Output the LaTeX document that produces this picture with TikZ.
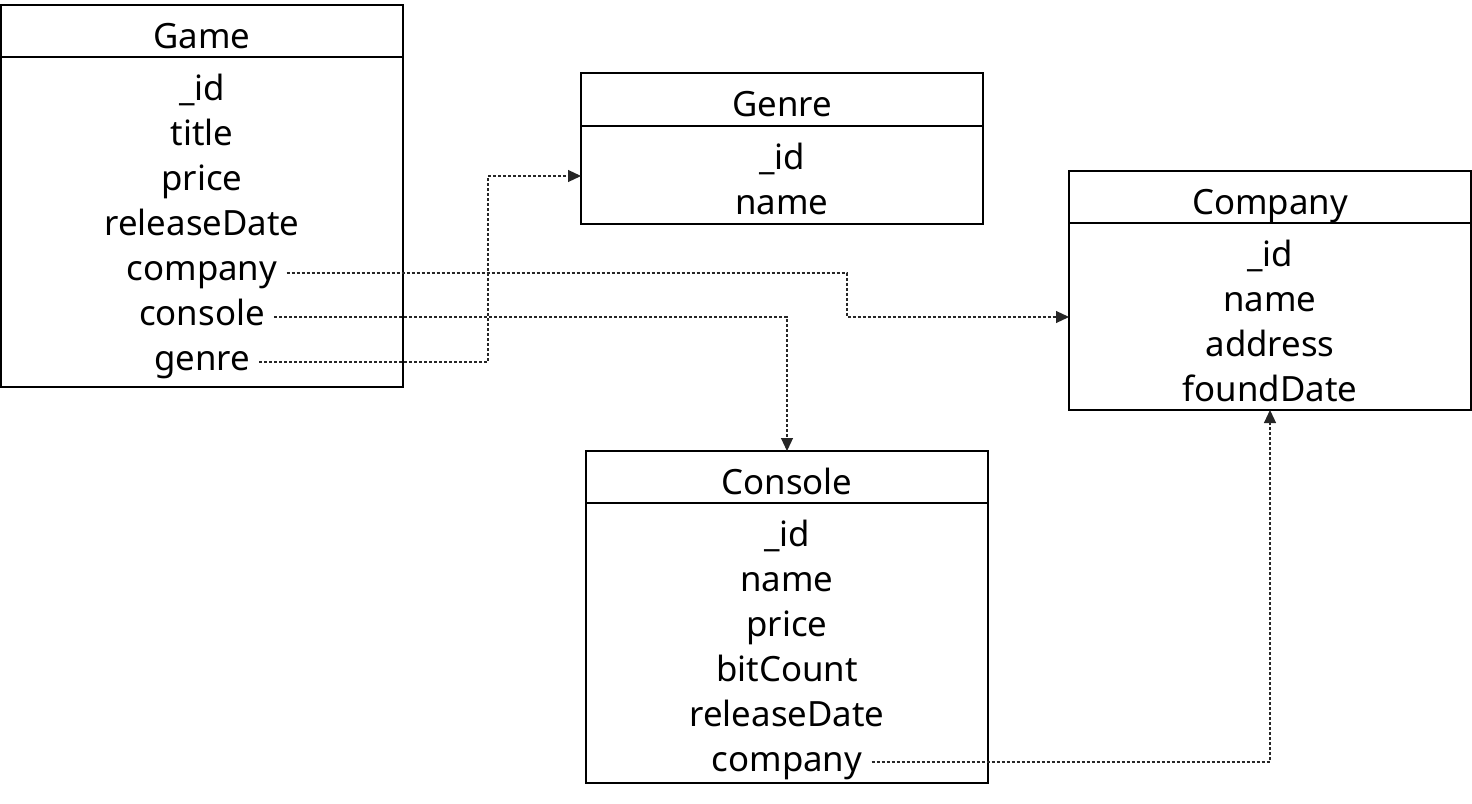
\documentclass[tikz,border=0pt]{standalone}
\usepackage{fontspec}
\setmainfont{Noto Sans}
\usetikzlibrary{arrows.meta,calc}
\begin{document}
\begin{tikzpicture}[x=0.5pt,y=-0.5pt,
  box/.style={draw,line width=1pt,anchor=north west,minimum width=201pt,inner sep=0pt,outer sep=0pt},
  fld/.style={anchor=base,inner sep=0pt,font=\fontsize{17.4}{20}\selectfont},
  conn/.style={draw=black!85,line width=0.55pt,dash pattern=on 1.5pt off 1pt,-{Triangle[length=6.5pt,width=6pt]}}]
\useasboundingbox (0,0) rectangle (1472,803);
% boxes
\node[box,minimum height=191pt] (game) at (1,5) {};
\node[box,minimum height=75.5pt] (genre) at (581,73) {};
\node[box,minimum height=119.5pt] (company) at (1069,171) {};
\node[box,minimum height=166pt] (console) at (586,451) {};
\draw[line width=1pt] (game.north west) ++(0,52) -- ++(402,0);
\draw[line width=1pt] (genre.north west) ++(0,53) -- ++(402,0);
\draw[line width=1pt] (company.north west) ++(0,52) -- ++(402,0);
\draw[line width=1pt] (console.north west) ++(0,52) -- ++(402,0);
% Game
\node[fld] (gt) at (202,48) {Game};
\node[fld] (g1) at (202,100) {\_id};
\node[fld] (g2) at (202,145) {title};
\node[fld] (g3) at (202,190) {price};
\node[fld] (g4) at (202,235) {releaseDate};
\node[fld] (gcompany) at (202,280) {company};
\node[fld] (gconsole) at (202,325) {console};
\node[fld] (ggenre) at (202,370) {genre};
% Genre
\node[fld] (nt) at (782,116) {Genre};
\node[fld] (n1) at (782,169) {\_id};
\node[fld] (n2) at (782,214) {name};
% Company
\node[fld] (ct) at (1270,214) {Company};
\node[fld] (c1) at (1270,266) {\_id};
\node[fld] (c2) at (1270,311) {name};
\node[fld] (c3) at (1270,356) {address};
\node[fld] (c4) at (1270,401) {foundDate};
% Console
\node[fld] (kt) at (787,494) {Console};
\node[fld] (k1) at (787,546) {\_id};
\node[fld] (k2) at (787,591) {name};
\node[fld] (k3) at (787,636) {price};
\node[fld] (k4) at (787,681) {bitCount};
\node[fld] (k5) at (787,726) {releaseDate};
\node[fld] (kcompany) at (787,771) {company};
% bends
\coordinate (b1) at (847,317);
\coordinate (b2) at (488,176);
% connectors
\draw[conn] ([shift={(9,-7)}]gcompany.base east) -| (b1) -- (company.west |- b1);
\draw[conn] ([shift={(9,-8)}]gconsole.base east) -| (console.north);
\draw[conn] ([shift={(9,-8)}]ggenre.base east) -| (b2) -- (genre.west |- b2);
\draw[conn] ([shift={(9,-9)}]kcompany.base east) -| (company.south);
\end{tikzpicture}
\end{document}
